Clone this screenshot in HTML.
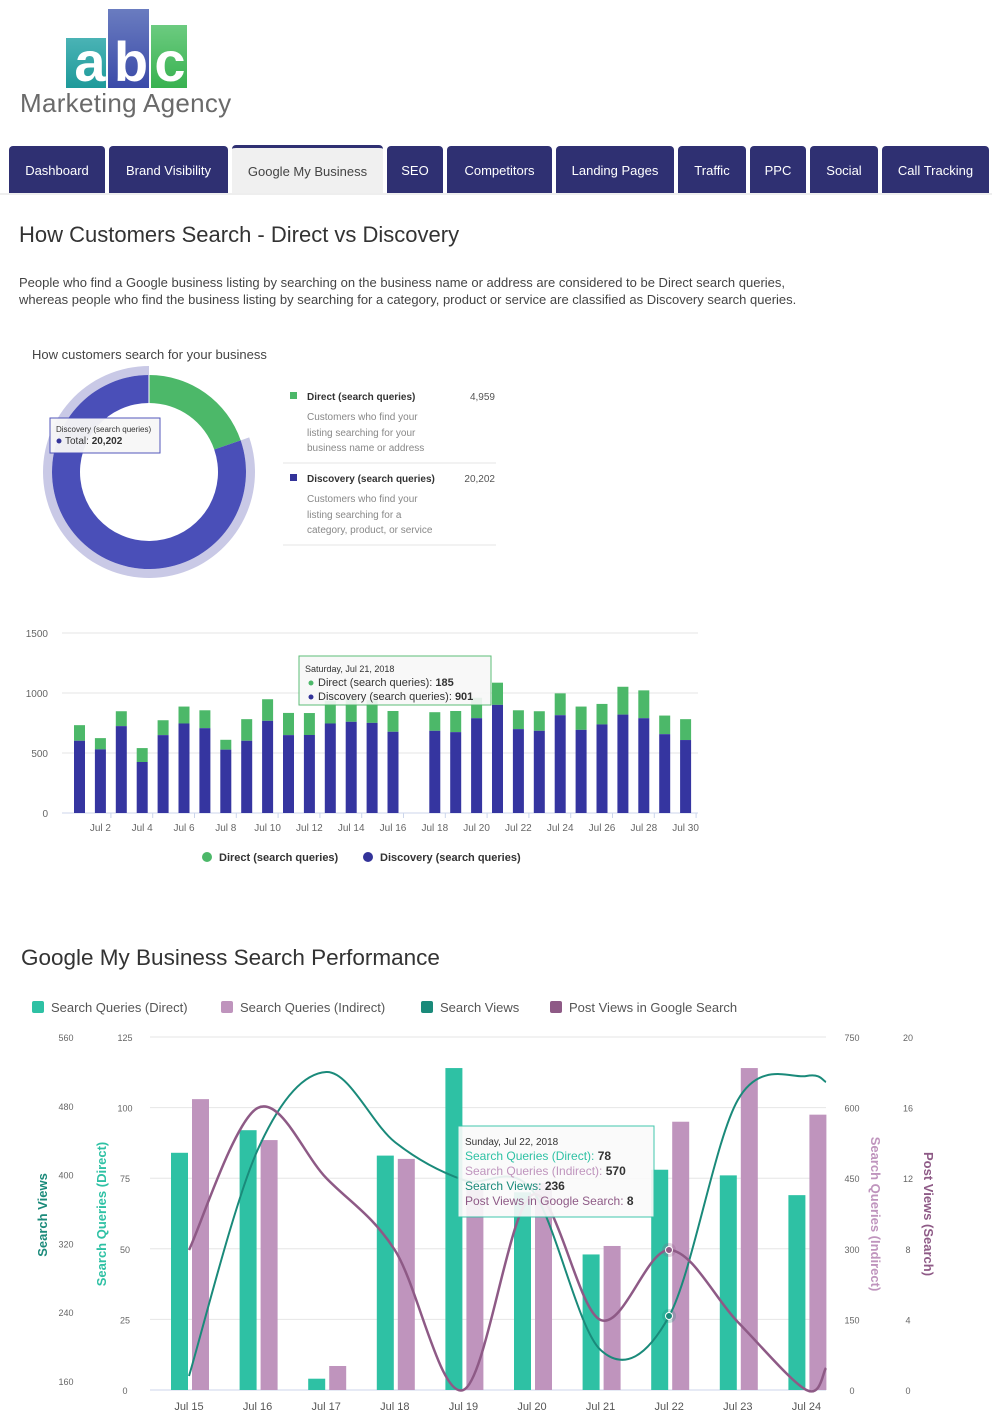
<!DOCTYPE html>
<html><head><meta charset="utf-8"><style>
body{margin:0;width:992px;height:1426px;background:#fff;font-family:"Liberation Sans",sans-serif;position:relative;overflow:hidden}
.a{position:absolute}
.tab{position:absolute;top:146px;height:47px;background:#2f3072;color:#fff;font-size:13px;line-height:50px;text-align:center;border-radius:4px 4px 0 0}
.tab.on{background:#f0f0f0;color:#444;border-top:3px solid #2f3072;top:145px;height:45px;line-height:48px}
svg text{font-family:"Liberation Sans",sans-serif}
</style></head><body>
<div class="a" style="left:66px;top:38px;width:40px;height:50px;background:linear-gradient(#4ab3b5,#1e9a9a)"></div>
<div class="a" style="left:108px;top:9px;width:41px;height:79px;background:linear-gradient(#6a7cc0,#3a4aa8)"></div>
<div class="a" style="left:151px;top:25px;width:36px;height:63px;background:linear-gradient(#6ccb80,#38b250)"></div>
<div class="a" style="left:70px;top:34px;font-size:56px;font-weight:bold;color:#fff;line-height:56px"><span style="display:inline-block;width:40px;text-align:center">a</span><span style="display:inline-block;width:42px;text-align:center">b</span><span style="display:inline-block;width:36px;text-align:center">c</span></div>
<div class="a" style="left:20px;top:88px;font-size:26px;color:#6a6a6a;letter-spacing:0.3px">Marketing Agency</div>
<div class="tab" style="left:9px;width:96px">Dashboard</div>
<div class="tab" style="left:109px;width:119px">Brand Visibility</div>
<div class="tab on" style="left:232px;width:151px">Google My Business</div>
<div class="tab" style="left:387px;width:56px">SEO</div>
<div class="tab" style="left:447px;width:105px">Competitors</div>
<div class="tab" style="left:556px;width:118px">Landing Pages</div>
<div class="tab" style="left:678px;width:68px">Traffic</div>
<div class="tab" style="left:750px;width:56px">PPC</div>
<div class="tab" style="left:810px;width:68px">Social</div>
<div class="tab" style="left:882px;width:107px">Call Tracking</div>
<div class="a" style="left:0;top:193px;width:992px;height:2px;background:#eee"></div>

<div class="a" style="left:19px;top:222px;font-size:22px;color:#333">How Customers Search - Direct vs Discovery</div>
<div class="a" style="left:19px;top:274px;font-size:13px;color:#444;line-height:17px;width:940px">People who find a Google business listing by searching on the business name or address are considered to be Direct search queries,<br>whereas people who find the business listing by searching for a category, product or service are classified as Discovery search queries.</div>
<div class="a" style="left:32px;top:347px;font-size:13px;color:#444">How customers search for your business</div>

<svg class="a" style="left:0;top:0" width="992" height="1426" id="s"></svg>

<div class="a" style="left:21px;top:945px;font-size:22.5px;color:#333">Google My Business Search Performance</div>
<script>
const s=document.getElementById('s');let h='';
function A(x){h+=x}
const cx=149,cy=472;
function arc(r1,r2,a0,a1,c){const p=(r,a)=>[cx+r*Math.sin(a),cy-r*Math.cos(a)];const l=a1-a0>Math.PI?1:0;
const [x1,y1]=p(r2,a0),[x2,y2]=p(r2,a1),[x3,y3]=p(r1,a1),[x4,y4]=p(r1,a0);
A(`<path d="M${x1},${y1}A${r2},${r2} 0 ${l} 1 ${x2},${y2}L${x3},${y3}A${r1},${r1} 0 ${l} 0 ${x4},${y4}Z" fill="${c}"/>`)}
const g=2*Math.PI*4959/25161;
arc(97,106,g,2*Math.PI-0.0001,'#c9c9e6');
arc(69,97,0,g,'#4cb869');arc(69,97,g,2*Math.PI-0.0001,'#4a4fb8');
A(`<line x1="${cx}" y1="${cy-97}" x2="${cx}" y2="${cy-69}" stroke="#fff"/>`);
A(`<rect x="50" y="418" width="110" height="35" fill="#f7f7f7" stroke="#4a4fb8" opacity=".95"/><text x="56" y="432" font-size="8" fill="#333">Discovery (search queries)</text><circle cx="59" cy="441" r="2.5" fill="#333399"/><text x="65" y="444" font-size="10" fill="#333">Total: <tspan font-weight="bold">20,202</tspan></text>`);
A(`<rect x="290" y="392" width="7" height="7" fill="#4cb869"/><text x="307" y="400" font-size="10" font-weight="bold" fill="#333">Direct (search queries)</text><text x="495" y="400" font-size="10" fill="#555" text-anchor="end">4,959</text>
<text font-size="10" fill="#888"><tspan x="307" y="420">Customers who find your</tspan><tspan x="307" y="436">listing searching for your</tspan><tspan x="307" y="451">business name or address</tspan></text>
<line x1="283" y1="463" x2="496" y2="463" stroke="#e6e6e6"/>
<rect x="290" y="474" width="7" height="7" fill="#333399"/><text x="307" y="482" font-size="10" font-weight="bold" fill="#333">Discovery (search queries)</text><text x="495" y="482" font-size="10" fill="#555" text-anchor="end">20,202</text>
<text font-size="10" fill="#888"><tspan x="307" y="502">Customers who find your</tspan><tspan x="307" y="518">listing searching for a</tspan><tspan x="307" y="533">category, product, or service</tspan></text>
<line x1="283" y1="545" x2="496" y2="545" stroke="#e6e6e6"/>`);
for(const v of [0,500,1000,1500]){const y=813-v*0.12;A(`<line x1="62" x2="698" y1="${y}" y2="${y}" stroke="${v?'#e6e6e6':'#ccd6eb'}"/><text x="48" y="${y+4}" font-size="10" fill="#666" text-anchor="end">${v}</text>`)}
const T=[732,624,848,541,773,887,856,610,782,948,834,833,935,955,940,850,0,840,850,960,1086,856,848,997,887,909,1052,1022,812,782];
const D=[602,530,724,425,649,746,707,528,602,768,649,650,746,760,751,677,0,685,674,790,901,699,685,815,693,738,820,790,657,608];
for(let i=0;i<30;i++){const x=74+i*20.9;
if(i%2==1)A(`<text x="${x+5.5}" y="831" font-size="10" fill="#666" text-anchor="middle">Jul ${i+1}</text><line x1="${x+16}" x2="${x+16}" y1="813" y2="818" stroke="#ccd6eb"/>`);
if(!T[i])continue;
A(`<rect x="${x}" y="${813-T[i]*.12}" width="11" height="${(T[i]-D[i])*.12}" fill="#4cb869"/><rect x="${x}" y="${813-D[i]*.12}" width="11" height="${D[i]*.12}" fill="#3535a0"/>`);}
A(`<rect x="299" y="656" width="192" height="49" fill="#f8f8f8" stroke="#4cb869" opacity=".9"/><text x="305" y="672" font-size="9" fill="#333">Saturday, Jul 21, 2018</text><circle cx="311" cy="683" r="2.5" fill="#4cb869"/><text x="318" y="686" font-size="11" fill="#333">Direct (search queries): <tspan font-weight="bold">185</tspan></text><circle cx="311" cy="697" r="2.5" fill="#333399"/><text x="318" y="700" font-size="11" fill="#333">Discovery (search queries): <tspan font-weight="bold">901</tspan></text>`);
A(`<circle cx="207" cy="857" r="5" fill="#4cb869"/><text x="219" y="861" font-size="11" font-weight="bold" fill="#333">Direct (search queries)</text><circle cx="368" cy="857" r="5" fill="#333399"/><text x="380" y="861" font-size="11" font-weight="bold" fill="#333">Discovery (search queries)</text>`);
const L=[[32,'#2ec1a4','Search Queries (Direct)'],[221,'#bf94bd','Search Queries (Indirect)'],[421,'#1a8a7a','Search Views'],[550,'#8e5a86','Post Views in Google Search']];
for(const [x,c,t] of L)A(`<rect x="${x}" y="1001" width="12" height="12" rx="2" fill="${c}"/><text x="${x+19}" y="1012" font-size="13" fill="#555">${t}</text>`);
const y0=1390,yt=1037,ph=y0-yt;
const lv=[560,480,400,320,240,160],dv=[125,100,75,50,25,0],iv=[750,600,450,300,150,0],pv=[20,16,12,8,4,0];
for(let k=0;k<6;k++){const y=yt+k*ph/5,yl=yt+k*68.8;A(`<line x1="150" x2="826" y1="${y}" y2="${y}" stroke="${k==5?'#ccd6eb':'#e6e6e6'}"/>
<text x="66" y="${yl+4}" font-size="9" fill="#666" text-anchor="middle">${lv[k]}</text><text x="125" y="${y+4}" font-size="9" fill="#666" text-anchor="middle">${dv[k]}</text><text x="852" y="${y+4}" font-size="9" fill="#666" text-anchor="middle">${iv[k]}</text><text x="908" y="${y+4}" font-size="9" fill="#666" text-anchor="middle">${pv[k]}</text>`)}
A(`<text transform="translate(47,1215) rotate(-90)" font-size="13" font-weight="bold" fill="#1a8a7a" text-anchor="middle">Search Views</text>
<text transform="translate(106,1214) rotate(-90)" font-size="13" font-weight="bold" fill="#2ec1a4" text-anchor="middle">Search Queries (Direct)</text>
<text transform="translate(871,1214) rotate(90)" font-size="13" font-weight="bold" fill="#bf94bd" text-anchor="middle">Search Queries (Indirect)</text>
<text transform="translate(924,1214) rotate(90)" font-size="13" font-weight="bold" fill="#8e5a86" text-anchor="middle">Post Views (Search)</text>`);
const G=[84,92,4,83,114,70,48,78,76,69],P=[618,531,51,491,425,440,306,570,684,585];
for(let i=0;i<10;i++){const x=189+i*68.6;
A(`<rect x="${x-18}" y="${y0-G[i]*ph/125}" width="17" height="${G[i]*ph/125}" fill="#2ec1a4"/><rect x="${x+3}" y="${y0-P[i]*ph/750}" width="17" height="${P[i]*ph/750}" fill="#bf94bd"/><text x="${x}" y="1410" font-size="11" fill="#555" text-anchor="middle">Jul ${15+i}</text>`)}
function smooth(pts){let d=`M${pts[0][0]},${pts[0][1]}`;for(let i=0;i<pts.length-1;i++){const p0=pts[i-1]||pts[i],p1=pts[i],p2=pts[i+1],p3=pts[i+2]||p2;
d+=`C${p1[0]+(p2[0]-p0[0])/6},${p1[1]+(p2[1]-p0[1])/6} ${p2[0]-(p3[0]-p1[0])/6},${p2[1]-(p3[1]-p1[1])/6} ${p2[0]},${p2[1]}`}return d}
const SV=[1376,1150,1072,1142,1180,1190,1350,1316,1100,1076],PV=[1250,1108,1178,1250,1390,1195,1320,1250,1322,1390];
const sp=SV.map((y,i)=>[189+i*68.6,y]);sp.push([826,1082]);
const pp=PV.map((y,i)=>[189+i*68.6,y]);pp.push([826,1368]);
A(`<path d="${smooth(sp)}" fill="none" stroke="#1a8a7a" stroke-width="2"/><path d="${smooth(pp)}" fill="none" stroke="#8e5a86" stroke-width="2.5"/>`);
A(`<circle cx="669" cy="1316" r="7" fill="#1a8a7a" opacity=".25"/><circle cx="669" cy="1316" r="3.5" fill="#1a8a7a" stroke="#fff"/><circle cx="669" cy="1250" r="7" fill="#8e5a86" opacity=".25"/><circle cx="669" cy="1250" r="3.5" fill="#8e5a86" stroke="#fff"/>`);
A(`<rect x="458" y="1126" width="196" height="91" fill="#fafafa" stroke="#2ec1a4" opacity=".9"/><text x="465" y="1145" font-size="10" fill="#333">Sunday, Jul 22, 2018</text>
<text x="465" y="1160" font-size="12" fill="#2ec1a4">Search Queries (Direct): <tspan fill="#333" font-weight="bold">78</tspan></text>
<text x="465" y="1175" font-size="12" fill="#bf94bd">Search Queries (Indirect): <tspan fill="#333" font-weight="bold">570</tspan></text>
<text x="465" y="1190" font-size="12" fill="#1a8a7a">Search Views: <tspan fill="#333" font-weight="bold">236</tspan></text>
<text x="465" y="1205" font-size="12" fill="#8e5a86">Post Views in Google Search: <tspan fill="#333" font-weight="bold">8</tspan></text>`);
s.innerHTML=h;
</script>
</body></html>
